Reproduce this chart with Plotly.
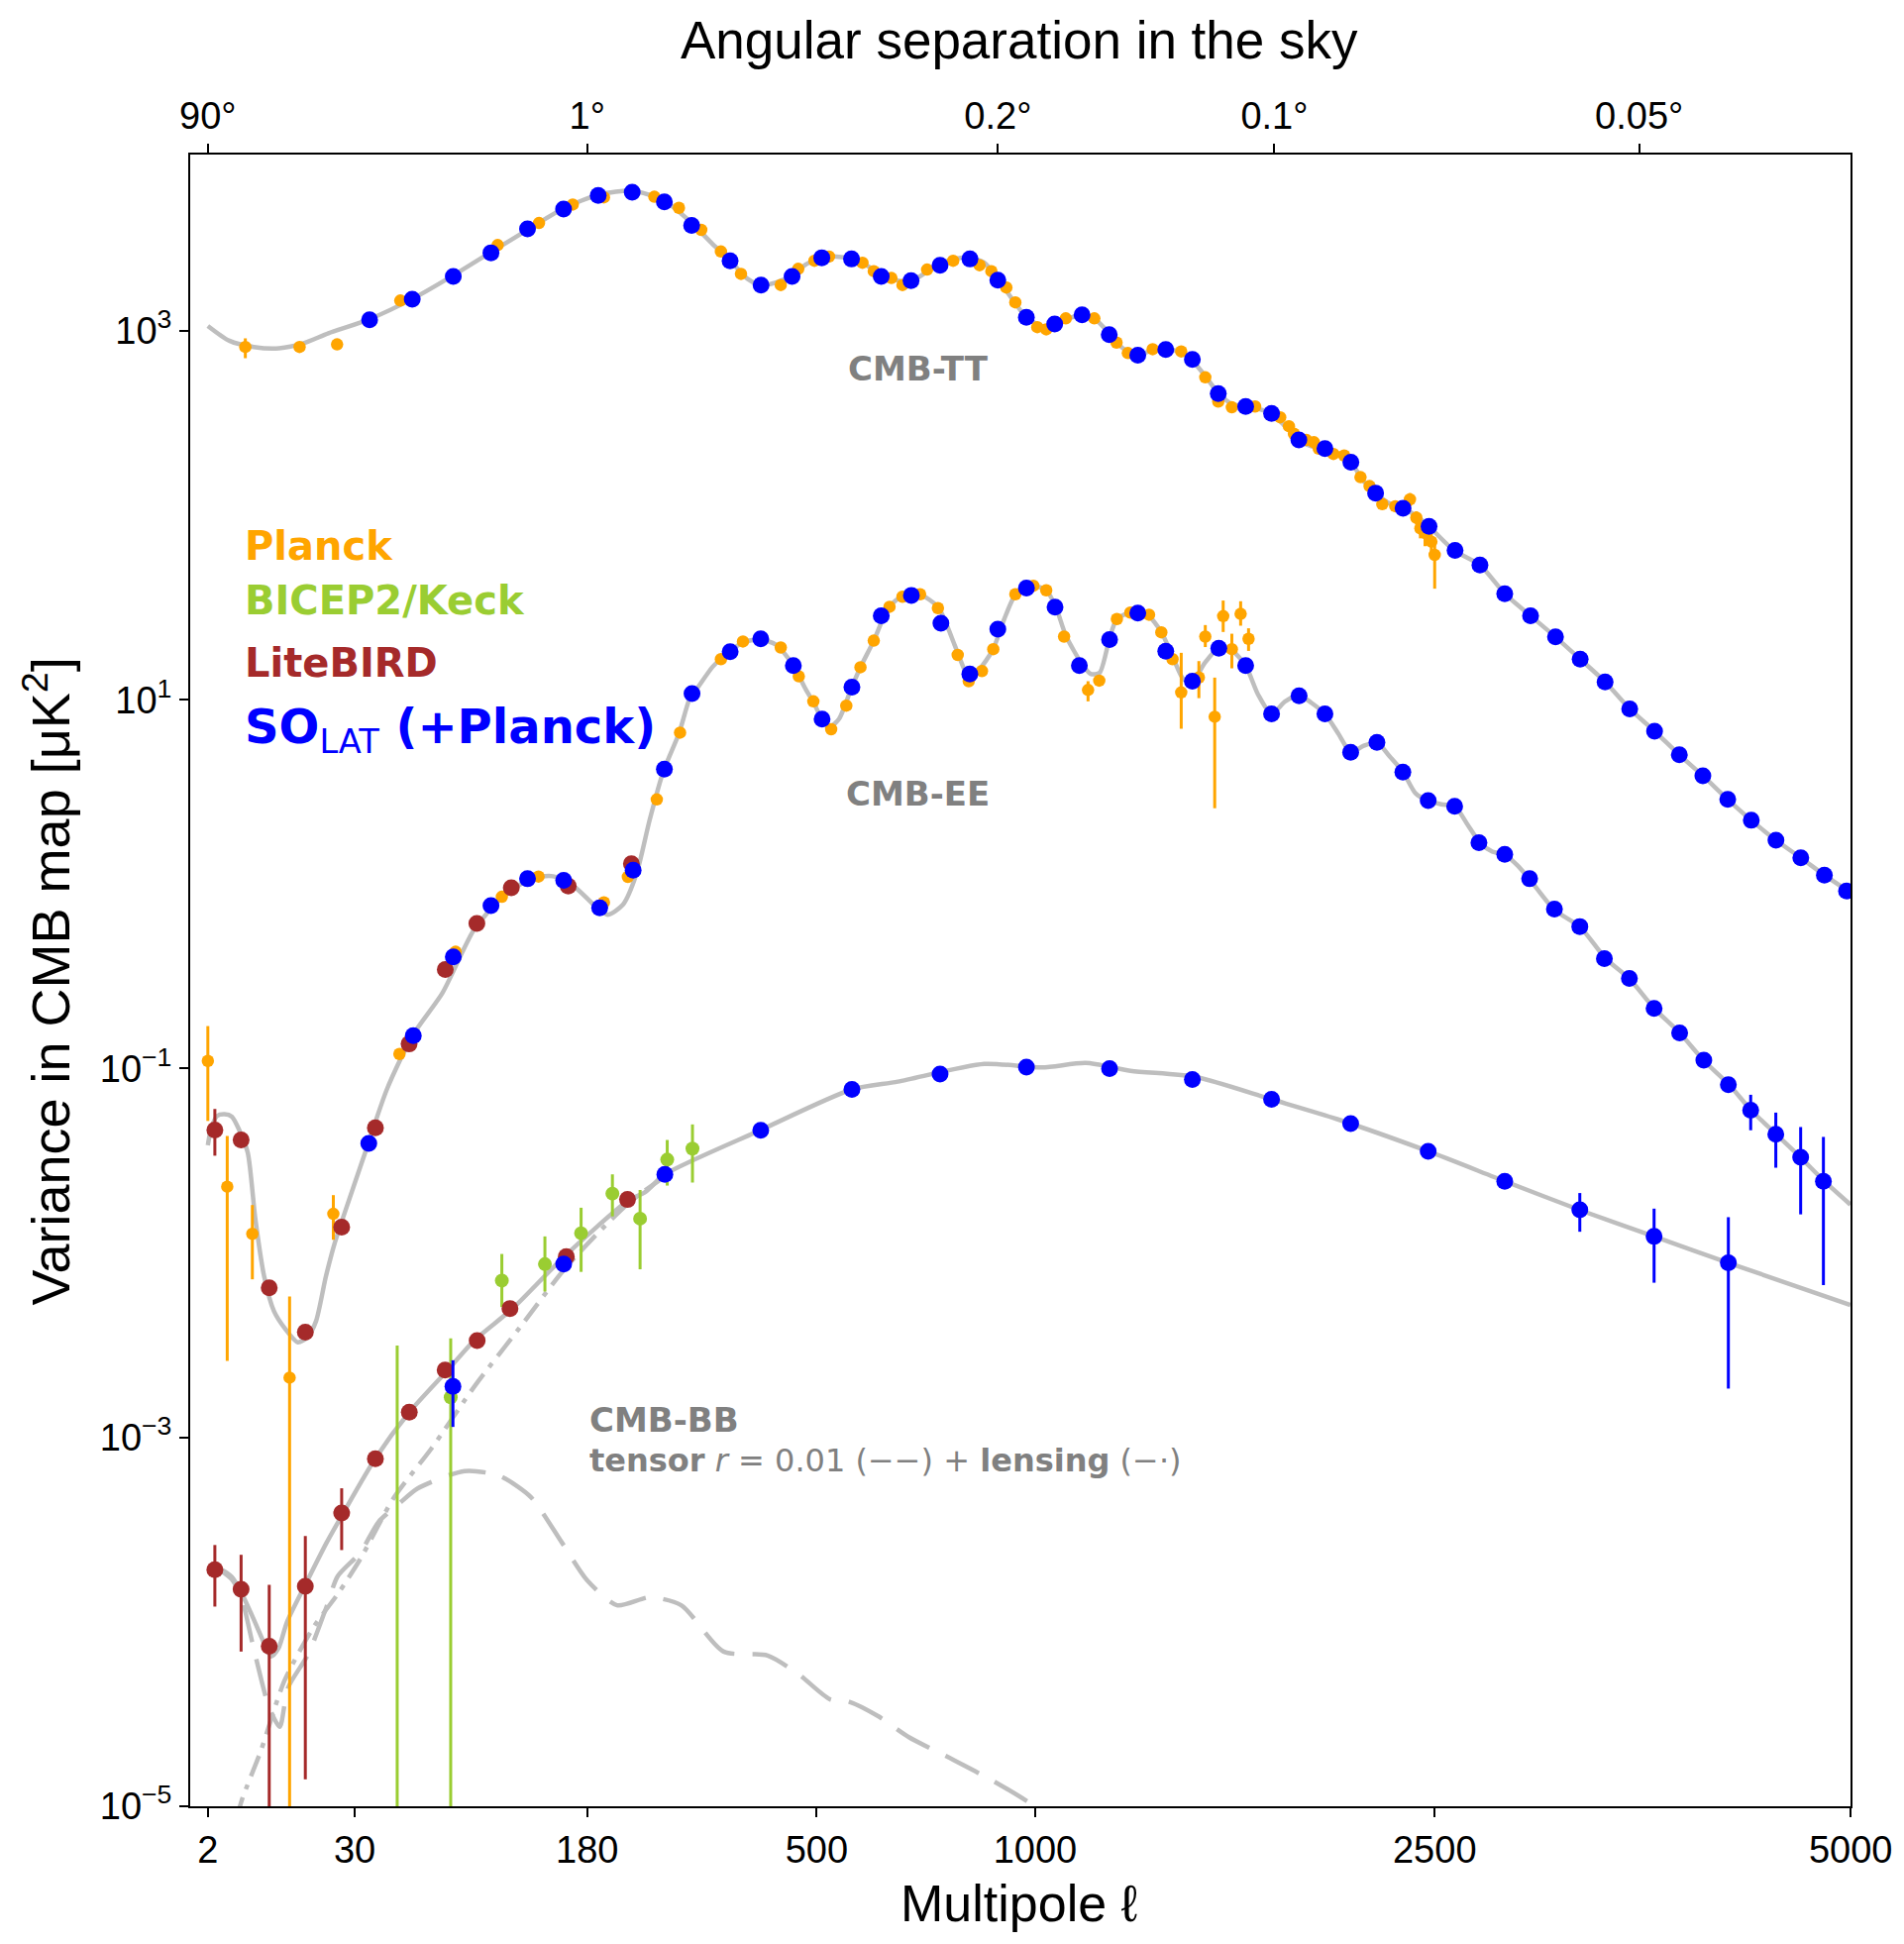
import plotly.graph_objects as go

# ---------------- data (multipole l, D_l in muK^2) ----------------
# theory curves
tt_l = [2, 3.75, 6.6, 10.6, 15.6, 21.9, 34.8, 53.7, 75.5, 100, 129, 158, 192, 228, 266, 302, 331, 356, 383, 404,
        429, 456, 482, 510, 537, 566, 596, 627, 656, 691, 724, 756, 791, 827, 865, 900, 939, 976, 1017, 1055,
        1095, 1135, 1176, 1218, 1261, 1309, 1354, 1400, 1446, 1494, 1538, 1587, 1637, 1689, 1741, 1789, 1843, 1898, 1949, 2006,
        2063, 2117, 2171, 2226, 2288, 2351, 2409, 2473, 2593, 2723, 2850, 2986, 3121, 3258, 3400, 3544, 3693, 3845, 3993, 4153,
        4308, 4474, 4645, 4811, 4998]
tt_D = [1064, 884, 818, 805, 857, 970, 1150, 1496, 2007, 2693, 3613, 4628, 5488, 5748, 5078, 3843, 2954, 2416, 1916, 1773,
        1828, 2007, 2307, 2492, 2531, 2454, 2271, 2007, 1886, 1857, 2070, 2307, 2454, 2492, 2342, 1916, 1473, 1186, 1064, 1081,
        1168, 1223, 1150, 970, 805, 746, 781, 805, 769, 690, 573, 461, 401, 389, 377, 355, 304, 256, 237, 230,
        216, 194, 154, 132, 116, 109, 100, 87, 64.6, 53.7, 37.6, 28.5, 21.9, 16.6, 12.5, 8.92, 6.75, 5.03, 3.87, 2.88,
        2.22, 1.73, 1.39, 1.12, 0.90]

ee_l = [2, 2.2, 2.66, 3.3, 4.0, 4.8, 5.8, 6.8, 8.1, 9.7, 11.7, 14.3, 16.5, 18.6, 21.2, 23.7, 26.3, 33.0, 42.1, 53.7,
        69.1, 87.6, 105.4, 129, 148, 168.3, 187.8, 200.6, 217.5, 232.9, 248.2, 264.8, 285.5, 300.2, 308.6, 331.1, 356.5, 379.1, 402.6, 428.9,
        458.5, 480.3, 495.8, 509.5, 525.7, 542.1, 566.2, 583.4, 611.1, 642.3, 671.8, 690.8, 713, 752.8, 791.2, 815.2, 827.5, 852.2, 887, 916,
        945.6, 975.8, 999.6, 1030.6, 1058.5, 1087.5, 1135, 1161, 1188, 1218, 1241, 1285, 1309, 1341, 1387, 1429, 1463, 1494, 1538, 1587,
        1637, 1689, 1736, 1789, 1843, 1898, 1949, 2006, 2063, 2117, 2171, 2232, 2288, 2351, 2409, 2467, 2532, 2599, 2660, 2723,
        2786, 2850, 2915, 2979, 3114, 3258, 3400, 3544, 3693, 3845, 4001, 4161, 4308, 4474, 4645, 4811, 4998]
ee_D = [0.0384, 0.0463, 0.0553, 0.0566, 0.0549, 0.0463, 0.0350, 0.0154, 0.00746, 0.00483, 0.00389, 0.00328, 0.00349, 0.00427, 0.00746, 0.0113, 0.0157, 0.0327, 0.0771, 0.152,
        0.258, 0.559, 0.823, 1.07, 1.104, 0.961, 0.762, 0.683, 0.774, 1.139, 2.215, 4.05, 6.65, 10.4, 11.4, 15.1, 18.5, 20.6, 21.2, 19.9,
        15.3, 11.4, 9.49, 7.88, 7.18, 7.88, 11.6, 14.9, 20.9, 31.7, 36.5, 37.0, 37.0, 31.7, 19.9, 14.6, 13.3, 14.6, 18.7, 27.2,
        37.0, 40.6, 41.3, 39.4, 31.7, 22.2, 15.6, 13.8, 14.0, 21.2, 27.2, 29.8, 29.4, 28.9, 23.3, 16.6, 12.9, 12.5, 15.8, 19.0,
        18.5, 15.3, 10.7, 8.38, 9.79, 10.6, 9.63, 8.38, 6.55, 5.19, 5.61, 5.87, 4.95, 4.05, 3.11, 2.84, 2.71, 2.63, 2.11, 1.68,
        1.50, 1.44, 1.27, 1.07, 0.727, 0.586, 0.398, 0.306, 0.211, 0.157, 0.110, 0.082, 0.0593, 0.0442, 0.0329, 0.0245, 0.0183]

bb_l = [2, 3, 4, 5, 6.5, 7.6, 9.2, 10.5, 12.1, 16, 21.4, 26.3, 37.4, 52, 72, 88, 115, 158, 223, 243,
        267, 403, 567, 662, 865, 1019, 1146, 1285, 1507, 1789, 2058, 2469, 2850, 3256, 3690, 4157, 4998]
bb_D = [1.92e-4, 1.92e-4, 1.75e-4, 1.45e-4, 1.05e-4, 8.4e-5, 6.5e-5, 7.2e-5, 1.0e-4, 1.59e-4, 2.69e-4, 3.89e-4, 7.66e-4, 1.37e-3, 2.32e-3, 3.35e-3, 5.0e-3, 9.55e-3, 0.0192, 0.0214,
        0.0267, 0.0463, 0.0771, 0.085, 0.106, 0.1014, 0.1072, 0.0973, 0.090, 0.0681, 0.0532, 0.0356, 0.0245, 0.0171, 0.0123, 0.00884, 0.00523]

tensor_l = [2, 3, 4, 5, 6.5, 8.8, 10.7, 12.3, 16.7, 21.4, 24.6, 32, 38.7, 47.6, 56, 82, 105, 129, 156, 180,
            211, 249, 288, 347, 415, 468, 525, 560, 620, 686, 790, 899, 990, 1100]
tensor_D = [1.90e-4, 1.88e-4, 1.70e-4, 1.38e-4, 7.4e-5, 3.5e-5, 2.7e-5, 4.4e-5, 6.7e-5, 1.21e-4, 1.77e-4, 2.38e-4, 3.48e-4, 4.4e-4, 5.29e-4, 6.57e-4, 6.2e-4, 4.77e-4, 2.69e-4, 1.68e-4,
            1.23e-4, 1.36e-4, 1.23e-4, 6.9e-5, 6.57e-5, 5.19e-5, 3.8e-5, 3.7e-5, 3.08e-5, 2.37e-5, 1.78e-5, 1.33e-5, 1.03e-5, 7.5e-6]

lens_l = [3.5, 4, 5, 7.6, 11.6, 17.9, 25, 32, 45, 63, 89, 120, 160, 223, 267]
lens_D = [5e-6, 6.5e-6, 1.05e-5, 2.0e-5, 4.8e-5, 9.3e-5, 1.45e-4, 2.2e-4, 4.7e-4, 8.7e-4, 1.93e-3, 3.9e-3, 8.4e-3, 0.0185, 0.026]

# Planck
planck_tt_l = [5.5, 14.7, 24.4, 47.9, 104, 136, 166, 197, 254, 285, 315, 343, 373, 437, 467, 496, 523, 588, 611, 648,
               672, 727, 788, 853, 883, 922, 946, 1006, 1031, 1087, 1172, 1241, 1277, 1358, 1455, 1540, 1587, 1637, 1725, 1823,
               1858, 1878, 1929, 1960, 1980, 2042, 2088, 2159, 2199, 2256, 2315, 2383, 2413, 2432, 2454, 2484, 2500]
planck_tt_D = [818, 818, 845, 1460, 2920, 3843, 4845, 5300, 5336, 4650, 3530, 2693, 2038, 1773, 2170, 2400, 2531, 2342, 2108, 1935,
               1773, 2150, 2400, 2271, 2108, 1718, 1428, 1048, 1019, 1169, 1169, 864, 758, 796, 774, 560, 414, 385, 389, 340,
               304, 277, 256, 249, 230, 215, 211, 161, 144, 115, 112, 122, 97, 85, 80, 72, 61]
planck_tt_err = {5.5: (93, 107), 14.7: (40, 40), 2383: (10, 10), 2413: (8, 8), 2432: (10, 10), 2454: (12, 12),
                 2484: (10, 10), 2500: (8, 21)}

planck_ee_l = [2, 3.55, 6.4, 12.6, 23.3, 47.5, 76.6, 107, 135.6, 197, 223, 257, 286.5, 343, 376, 437, 468, 494, 527, 556,
               584, 611, 644, 672, 711, 752, 799, 826, 859, 888, 946, 995, 1031, 1082, 1153, 1187, 1242, 1285, 1346, 1387,
               1425, 1455, 1517, 1540, 1574, 1605, 1637, 1670, 1700]
planck_ee_D = [0.110, 0.0229, 0.0127, 0.00211, 0.0163, 0.120, 0.430, 0.854, 1.10, 0.796, 1.095, 2.88, 6.63, 16.6, 20.7, 19.2, 13.4, 9.80, 6.92, 9.29,
               15.0, 20.9, 31.9, 36.2, 37.3, 31.4, 17.5, 12.6, 14.3, 18.8, 37.3, 41.5, 39.2, 22.0, 11.3, 12.7, 27.4, 29.7, 28.9, 23.2,
               16.6, 10.96, 13.2, 22.0, 8.08, 28.4, 18.8, 29.2, 21.4]
planck_ee_err = {2: (0.060, 0.058), 3.55: (0.0202, 0.0203), 6.4: (0.0055, 0.0055), 12.6: (0.0037, 0.002109),
                 23.3: (0.0043, 0.0045), 1153: (1.3, 1.5), 1455: (7.0, 4.0), 1517: (3.0, 3.0), 1540: (3.4, 2.7),
                 1574: (5.1, 5.5), 1605: (6.1, 5.1), 1637: (4.0, 4.0), 1670: (5.0, 4.0), 1700: (3.0, 3.0)}

# BICEP2/Keck (BB)
bk_bb_l = [46.5, 73.7, 107, 141, 174, 206, 237, 270, 303]
bk_bb_D = [2e-6, 1.65e-3, 7.09e-3, 8.70e-3, 0.0128, 0.0210, 0.01536, 0.0321, 0.0368]
bk_bb_err = {46.5: (3.15e-3, 0), 73.7: (1.8e-3, 1.6499e-3), 107: (2.79e-3, 2.0e-3), 141: (3.6e-3, 2.52e-3),
             174: (4.8e-3, 4.9e-3), 206: (5.7e-3, 5.2e-3), 237: (6.6e-3, 7.2e-3), 270: (8.9e-3, 8.9e-3),
             303: (0.013, 0.0127)}

# LiteBIRD
lb_ee_l = [2.5, 5.0, 8.9, 16.0, 25.8, 37.5, 51.9, 70.6, 89.8, 114, 161.8, 227]
lb_ee_D = [0.0464, 0.0410, 0.00648, 0.00372, 0.0138, 0.0478, 0.136, 0.344, 0.613, 0.955, 0.976, 1.29]
lb_ee_err = {2.5: (0.014, 0.0127)}

lb_bb_l = [2.5, 5.0, 8.9, 16.0, 25.8, 37.5, 52, 70.5, 90, 113, 160, 222.6]
lb_bb_D = [1.92e-4, 1.50e-4, 7.38e-5, 1.56e-4, 3.89e-4, 7.66e-4, 1.37e-3, 2.32e-3, 3.35e-3, 5.0e-3, 9.55e-3, 0.0195]
lb_bb_err = {2.5: (6.9e-5, 7.1e-5), 5.0: (8.1e-5, 8.1e-5), 8.9: (8.5e-5, 7.37e-5), 16.0: (1.36e-4, 1.42e-4),
             25.8: (1.41e-4, 1.44e-4)}

# SO LAT (+Planck)
so_tt_l = [35.3, 53.4, 75.2, 99.3, 126.6, 157.5, 191.1, 227.9, 266.4, 301.9, 356.5, 404.5, 456.3, 509.5, 566.2, 626.6, 690.8, 757, 829, 899.7,
           975.8, 1055, 1135, 1218, 1309, 1402, 1494, 1587, 1689, 1789, 1898, 2006, 2117, 2226, 2351, 2473, 2599, 2723, 2850, 2986,
           3121, 3258, 3400, 3544, 3693, 3845, 3993, 4153, 4308, 4474, 4645, 4811, 4970]
so_tt_D = [1150, 1484, 1976, 2651, 3569, 4579, 5430, 5645, 5000, 3730, 2400, 1773, 1976, 2492, 2454, 1976, 1870, 2271, 2454, 1886,
           1186, 1090, 1223, 955, 738, 793, 701, 457, 389, 357, 256, 230, 194, 132, 109, 87, 64.6, 53.7, 37.6, 28.5,
           21.9, 16.6, 12.5, 8.92, 6.75, 5.03, 3.87, 2.88, 2.22, 1.73, 1.39, 1.12, 0.917]

so_ee_l = [35, 53.9, 75.2, 99.3, 126.6, 157.6, 192.6, 229, 266.4, 302.4, 356.6, 404, 458.5, 510, 567, 626.6, 691.6, 759, 828.7, 899.7,
           976, 1056, 1127, 1219, 1309, 1402, 1494, 1589, 1689, 1789, 1899, 2006, 2116, 2232, 2350, 2469, 2597, 2718, 2850, 2981,
           3115, 3256, 3396, 3542, 3690, 3847, 3999, 4157, 4304, 4473, 4644, 4804]
so_ee_D = [0.0393, 0.151, 0.403, 0.765, 1.07, 1.048, 0.744, 1.19, 4.21, 10.8, 18.2, 21.4, 15.3, 7.85, 11.7, 28.5, 36.8, 26.0, 13.8, 24.1,
           40.3, 31.8, 15.3, 21.2, 29.5, 18.3, 12.6, 19.0, 15.3, 8.39, 10.5, 8.39, 5.19, 5.87, 4.05, 2.84, 2.64, 1.68, 1.45, 1.07,
           0.732, 0.589, 0.395, 0.308, 0.212, 0.156, 0.111, 0.0818, 0.0595, 0.0441, 0.0330, 0.0245]
so_ee_err = {4157: (0.007, 0.007), 4304: (0.0126, 0.0132), 4473: (0.0136, 0.0151), 4644: (0.0152, 0.0168),
             4804: (0.0181, 0.0178)}

so_bb_l = [75.0, 157.6, 267, 404, 567, 757, 976, 1219, 1494, 1789, 2116, 2469, 2850, 3256, 3690, 4157]
so_bb_D = [1.89e-3, 8.70e-3, 0.0267, 0.0463, 0.0770, 0.0934, 0.1019, 0.100, 0.0873, 0.0681, 0.0503, 0.0356, 0.0245,
           0.01714, 0.0123, 0.00884]
so_bb_err = {75.0: (7.3e-4, 7.5e-4), 2850: (0.002, 0.002), 3256: (0.0040, 0.0041), 3690: (0.0051, 0.0054),
             4157: (0.0068, 0.0070)}

# axes
x_tick_l = [2, 30, 180, 500, 1000, 2500, 5000]
x_tick_text = ["2", "30", "180", "500", "1000", "2500", "5000"]
ang_tick_deg = [90, 1, 0.2, 0.1, 0.05]
ang_tick_text = ["90°", "1°", "0.2°", "0.1°", "0.05°"]
y_tick_vals = [1e-5, 1e-3, 1e-1, 1e1, 1e3]
y_tick_text = ["10<sup>−5</sup>", "10<sup>−3</sup>", "10<sup>−1</sup>", "10<sup>1</sup>", "10<sup>3</sup>"]

# ---------------- styling ----------------
PLANCK = "#FFA500"
BK = "#9ACD32"
LB = "#A52A2A"
SO = "#0000FF"
THEORY = "#BEBEBE"
LABEL = "#808080"
POW = 0.4  # x-axis uses l**0.4 scaling


def xs(l):
    return [v ** POW for v in l]


fig = go.Figure()


def theory(l, D, dash="solid"):
    fig.add_trace(go.Scatter(x=xs(l), y=D, mode="lines",
                             line=dict(color=THEORY, width=4.5, dash=dash, shape="spline", smoothing=0.7),
                             hoverinfo="skip", showlegend=False))


def points(l, D, err, color, size):
    plus = [err.get(v, (0, 0))[0] for v in l]
    minus = [err.get(v, (0, 0))[1] for v in l]
    fig.add_trace(go.Scatter(x=xs(l), y=D, mode="markers",
                             marker=dict(color=color, size=size, line=dict(width=0)),
                             error_y=dict(type="data", symmetric=False, array=plus, arrayminus=minus,
                                          color=color, thickness=3, width=0),
                             showlegend=False))


theory(tensor_l, tensor_D, dash="38px,18px")
theory(lens_l, lens_D, dash="22px,9px,5px,9px")
theory(tt_l, tt_D)
theory(ee_l, ee_D)
theory(bb_l, bb_D)

points(planck_tt_l, planck_tt_D, planck_tt_err, PLANCK, 12.5)
points(planck_ee_l, planck_ee_D, planck_ee_err, PLANCK, 12.5)
points(bk_bb_l, bk_bb_D, bk_bb_err, BK, 14)
points(lb_ee_l, lb_ee_D, lb_ee_err, LB, 17)
points(lb_bb_l, lb_bb_D, lb_bb_err, LB, 17)
points(so_tt_l, so_tt_D, {}, SO, 17)
points(so_ee_l, so_ee_D, so_ee_err, SO, 17)
points(so_bb_l, so_bb_D, so_bb_err, SO, 17)

# invisible helper so the top (angular) axis is rendered
ang_l = [180.0 / a for a in ang_tick_deg]
fig.add_trace(go.Scatter(x=xs(ang_l), y=[1e3] * len(ang_l), xaxis="x2", mode="markers",
                         marker=dict(opacity=0), hoverinfo="skip", showlegend=False))

x_range = [1.0097, 30.168]
tickfont = dict(family="Liberation Sans, Arial, sans-serif", size=38, color="black")
common = dict(ticks="outside", ticklen=9, tickwidth=2, tickcolor="black", showline=True, linecolor="black",
              linewidth=2, showgrid=False, zeroline=False, tickfont=tickfont, automargin=False)

# the page body adds an 8px margin, so the figure is sized to fit inside the 1922x1962 window
fig.update_layout(
    width=1906, height=1946,
    margin=dict(l=184, r=46, t=148, b=131),
    paper_bgcolor="white", plot_bgcolor="white",
    xaxis=dict(range=x_range, tickmode="array", tickvals=xs(x_tick_l), ticktext=x_tick_text, **common),
    xaxis2=dict(range=x_range, overlaying="x", side="top", anchor="y", tickmode="array",
                tickvals=xs(ang_l), ticktext=ang_tick_text, **common),
    yaxis=dict(type="log", range=[-5, 3.956], tickmode="array", tickvals=y_tick_vals, ticktext=y_tick_text,
               mirror=True, **common),
)

title_font = dict(family="Liberation Sans, Arial, sans-serif", size=53, color="black")
bold = "DejaVu Sans, sans-serif"
ann = [
    dict(x=0.4994, y=1.069, text="Angular separation in the sky", font=title_font, xanchor="center", yanchor="middle"),
    dict(x=0.4994, y=-0.0588, text="Multipole ℓ", font=dict(family=title_font["family"], size=52, color="black"),
         xanchor="center", yanchor="middle"),
    dict(x=-0.0862, y=0.4991, text="Variance in CMB map [μK<sup>2</sup>]",
         font=dict(family=title_font["family"], size=54, color="black"), textangle=-90,
         xanchor="center", yanchor="middle"),
    dict(x=0.0316, y=0.763, text="<b>Planck</b>", font=dict(family=bold, size=40, color=PLANCK), xanchor="left", yanchor="middle"),
    dict(x=0.0316, y=0.730, text="<b>BICEP2/Keck</b>", font=dict(family=bold, size=40, color=BK), xanchor="left", yanchor="middle"),
    dict(x=0.0316, y=0.6923, text="<b>LiteBIRD</b>", font=dict(family=bold, size=40, color=LB), xanchor="left", yanchor="middle"),
    dict(x=0.0316, y=0.652, text="<b>SO</b><sub>LAT</sub><b> (+Planck)</b>", font=dict(family=bold, size=48, color=SO),
         xanchor="left", yanchor="middle"),
    dict(x=0.4385, y=0.8704, text="<b>CMB-TT</b>", font=dict(family=bold, size=34, color=LABEL), xanchor="center", yanchor="middle"),
    dict(x=0.438, y=0.6131, text="<b>CMB-EE</b>", font=dict(family=bold, size=34, color=LABEL), xanchor="center", yanchor="middle"),
    dict(x=0.2393, y=0.234, text="<b>CMB-BB</b>", font=dict(family=bold, size=34, color=LABEL), xanchor="left", yanchor="middle"),
    dict(x=0.2393, y=0.2094, text="<b>tensor</b> <i>r</i> = 0.01 (−−) + <b>lensing</b> (−·)",
         font=dict(family=bold, size=32, color=LABEL), xanchor="left", yanchor="middle"),
]
for a in ann:
    a.update(xref="paper", yref="paper", showarrow=False)
fig.update_layout(annotations=ann)

fig.write_html("out.html")
